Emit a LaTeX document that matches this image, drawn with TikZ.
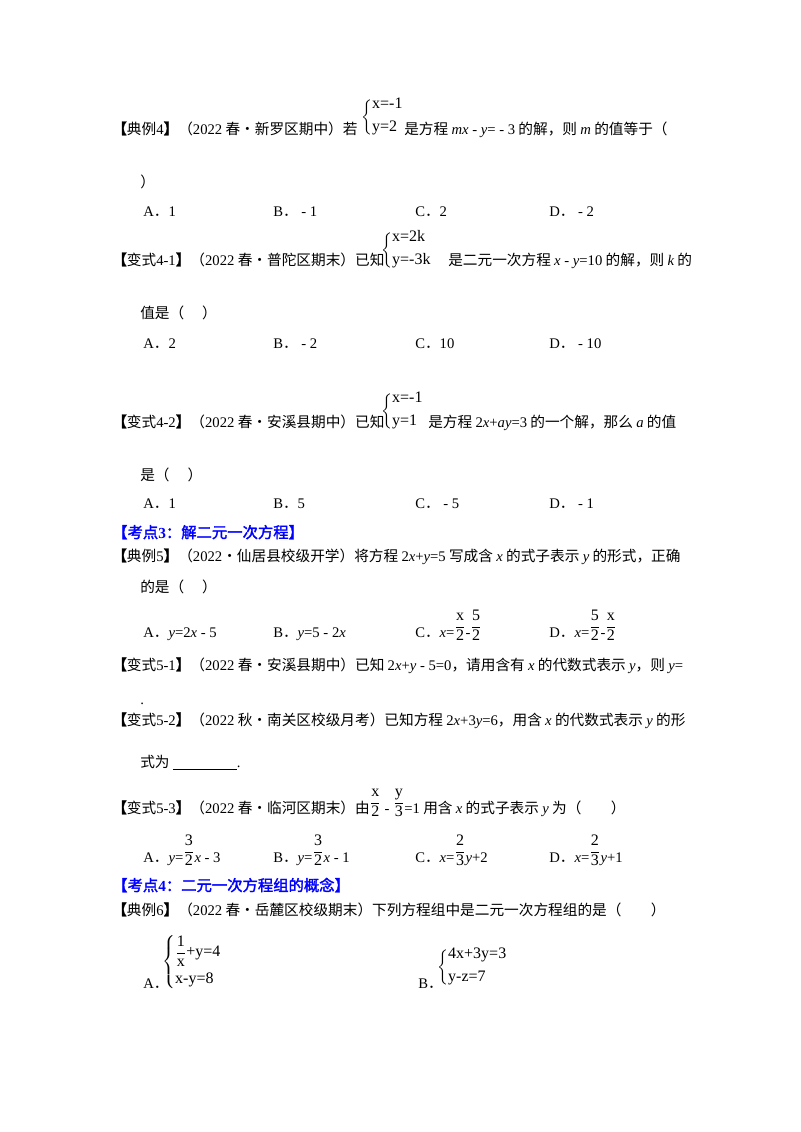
\documentclass[tikz,border=0pt]{standalone}
\usepackage{amsmath}
\usepackage{fontspec}
\setmainfont{Noto Sans CJK SC}[AutoFakeBold=2]
\newfontfamily\lat{Liberation Serif}
\newcommand{\vi}[1]{{\lat\itshape #1}}
\newcommand{\nm}[1]{{\lat #1}}
\newcommand{\fr}[2]{\raisebox{.42em}{$\dfrac{\mbox{\lat\large #1}}{\mbox{\lat\large #2}}$}}
\newcommand{\sys}[2]{$\left\{\begin{array}{@{}l@{}}\mbox{\lat\large #1}\\[5pt]\mbox{\lat\large #2}\end{array}\right.$}
\begin{document}
\begin{tikzpicture}[x=0.75pt,y=-0.75pt,
  t/.style={anchor=base west,inner sep=0pt,font=\fontsize{11}{13}\selectfont},
  hd/.style={t,text=blue,font=\fontsize{11.5}{13}\selectfont\bfseries},
  sy/.style={anchor=west,inner sep=0pt,font=\fontsize{10.5}{12}\selectfont}]
\useasboundingbox[fill=white] (0,0) rectangle (800,1132);
% Example 4
\node[t] (l1) at (112,134) {\textbf{【}典例\nm{4}\textbf{】}（\nm{2022} 春•新罗区期中）若};
\node[sy] (s1) at (361,117) {\sys{x=-1}{y=2}};
\node[t] (l1b) at (404,134) {是方程 \vi{mx}\nm{ - }\vi{y}\nm{= - 3} 的解，则 \vi{m} 的值等于（};
\node[t] (l2) at (140,187) {）};
\node[t] (a1) at (143,216) {\nm{A}．\nm{1}};
\node[t] (b1) at (273,216) {\nm{B}．\nm{ - 1}};
\node[t] (c1) at (415,216) {\nm{C}．\nm{2}};
\node[t] (d1) at (549,216) {\nm{D}．\nm{ - 2}};
% 4-1
\node[t] (l3) at (112,265) {\textbf{【}变式\nm{4-1}\textbf{】}（\nm{2022} 春•普陀区期末）已知};
\node[sy] (s2) at (381,250) {\sys{x=2k}{y=-3k}};
\node[t] (l3b) at (448,265) {是二元一次方程 \vi{x}\nm{ - }\vi{y}\nm{=10} 的解，则 \vi{k} 的};
\node[t] (l4) at (140,318) {值是（\quad\ ）};
\node[t] (a2) at (143,348) {\nm{A}．\nm{2}};
\node[t] (b2) at (273,348) {\nm{B}．\nm{ - 2}};
\node[t] (c2) at (415,348) {\nm{C}．\nm{10}};
\node[t] (d2) at (549,348) {\nm{D}．\nm{ - 10}};
% 4-2
\node[t] (l5) at (112,427) {\textbf{【}变式\nm{4-2}\textbf{】}（\nm{2022} 春•安溪县期中）已知};
\node[sy] (s3) at (381,411) {\sys{x=-1}{y=1}};
\node[t] (l5b) at (428,427) {是方程 \nm{2}\vi{x}\nm{+}\vi{ay}\nm{=3} 的一个解，那么 \vi{a} 的值};
\node[t] (l6) at (140,480) {是（\quad\ ）};
\node[t] (a3) at (143,508) {\nm{A}．\nm{1}};
\node[t] (b3) at (273,508) {\nm{B}．\nm{5}};
\node[t] (c3) at (415,508) {\nm{C}．\nm{ - 5}};
\node[t] (d3) at (549,508) {\nm{D}．\nm{ - 1}};
% heading 3
\node[hd] (h3) at (112,538) {【考点\nm{3}：解二元一次方程】};
\node[t] (l7) at (112,561) {\textbf{【}典例\nm{5}\textbf{】}（\nm{2022}•仙居县校级开学）将方程 \nm{2}\vi{x}\nm{+}\vi{y}\nm{=5} 写成含 \vi{x} 的式子表示 \vi{y} 的形式，正确};
\node[t] (l8) at (140,592) {的是（\quad\ ）};
\node[t] (a4) at (143,637) {\nm{A}．\vi{y}\nm{=2}\vi{x}\nm{ - 5}};
\node[t] (b4) at (273,637) {\nm{B}．\vi{y}\nm{=5 - 2}\vi{x}};
\node[t] (c4) at (415,637) {\nm{C}．\vi{x}\nm{=}\fr{x}{2}\nm{-}\fr{5}{2}};
\node[t] (d4) at (549,637) {\nm{D}．\vi{x}\nm{=}\fr{5}{2}\nm{-}\fr{x}{2}};
% 5-1
\node[t] (l9) at (112,670) {\textbf{【}变式\nm{5-1}\textbf{】}（\nm{2022} 春•安溪县期中）已知 \nm{2}\vi{x}\nm{+}\vi{y}\nm{ - 5=0}，请用含有 \vi{x} 的代数式表示 \vi{y}，则 \vi{y}\nm{=}};
\node[t] (l10) at (140,704) {\nm{.}};
\node[t] (l11) at (112,725) {\textbf{【}变式\nm{5-2}\textbf{】}（\nm{2022} 秋•南关区校级月考）已知方程 \nm{2}\vi{x}\nm{+3}\vi{y}\nm{=6}，用含 \vi{x} 的代数式表示 \vi{y} 的形};
\node[t] (l12) at (140,767) {式为 \underline{\hspace{48pt}}\nm{.}};
\node[t] (l13) at (112,813) {\textbf{【}变式\nm{5-3}\textbf{】}（\nm{2022} 春•临河区期末）由\fr{x}{2}\nm{ - }\fr{y}{3}\nm{=1} 用含 \vi{x} 的式子表示 \vi{y} 为（\qquad）};
\node[t] (a5) at (143,862) {\nm{A}．\vi{y}\nm{=}\fr{3}{2}\vi{x}\nm{ - 3}};
\node[t] (b5) at (273,862) {\nm{B}．\vi{y}\nm{=}\fr{3}{2}\vi{x}\nm{ - 1}};
\node[t] (c5) at (415,862) {\nm{C}．\vi{x}\nm{=}\fr{2}{3}\vi{y}\nm{+2}};
\node[t] (d5) at (549,862) {\nm{D}．\vi{x}\nm{=}\fr{2}{3}\vi{y}\nm{+1}};
% heading 4
\node[hd] (h4) at (112,891) {【考点\nm{4}：二元一次方程组的概念】};
\node[t] (l14) at (112,915) {\textbf{【}典例\nm{6}\textbf{】}（\nm{2022} 春•岳麓区校级期末）下列方程组中是二元一次方程组的是（\qquad）};
\node[t] (a6) at (143,988) {\nm{A}．};
\node[sy] (s4) at (162,962) {$\left\{\begin{array}{@{}l@{}}\dfrac{\mbox{\lat\large 1}}{\mbox{\lat\large x}}\mbox{\lat\large +y=4}\\[8pt]\mbox{\lat\large x-y=8}\end{array}\right.$};
\node[t] (b6) at (418,988) {\nm{B}．};
\node[sy] (s5) at (437,967) {\sys{4x+3y=3}{y-z=7}};
\end{tikzpicture}
\end{document}
